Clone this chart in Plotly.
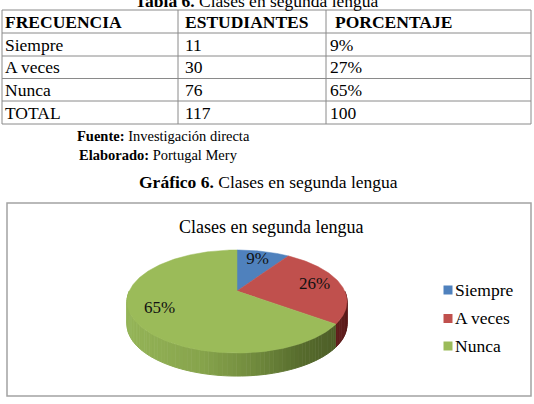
import numpy as np
import plotly.graph_objects as go

# ---------------- data ----------------
table_title_bold = "Tabla 6."
table_title_rest = "Clases en segunda lengua"
headers = ["FRECUENCIA", "ESTUDIANTES", "PORCENTAJE"]
categories = ["Siempre", "A veces", "Nunca"]
students = [11, 30, 76]
percent_text = ["9%", "27%", "65%"]
total_label = "TOTAL"
total_students = "117"
total_percent = "100"
source_label = "Fuente:"
source_text = "Investigación directa"
author_label = "Elaborado:"
author_text = "Portugal Mery"
caption_bold = "Gráfico 6."
caption_rest = "Clases en segunda lengua"
chart_title = "Clases en segunda lengua"
slice_colors = ["#4F81BD", "#C0504D", "#9BBB59"]

# ---------------- layout constants ----------------
W, H = 534, 404
FONT = "Liberation Serif"
row_lines = [10, 33, 56, 78.5, 101, 124]
col_lines = [2, 178, 326, 531]
col_pad = [1, 5, 2]
grid_color = "#8a8a8a"

CX, CY = 237, 291
A, B, P = 107.7, 49.4, 0.204
DEPTH = 23

def proj(theta_deg, r=1.0):
    t = np.radians(theta_deg)
    u = r * np.sin(t)
    v = -r * np.cos(t)
    d = 1 - P * v
    return CX + A * u / d, CY + B * v / d

side_stops = {
    0: [(127, (0x3a, 0x5f, 0x8e)), (347, (0x2a, 0x45, 0x68))],
    1: [(290, (0x82, 0x2b, 0x29)), (347, (0x5a, 0x1a, 0x19))],
    2: [(127, (0x94, 0xb4, 0x57)), (200, (0x87, 0xa4, 0x4c)), (255, (0x70, 0x8a, 0x3d)),
        (300, (0x57, 0x6c, 0x2d)), (347, (0x4a, 0x5a, 0x26))],
}

def grad_color(stops, x):
    xs = [s[0] for s in stops]
    rgb = [int(round(np.interp(x, xs, [s[1][k] for s in stops]))) for k in range(3)]
    return "rgb(%d,%d,%d)" % tuple(rgb)

fig = go.Figure()

vals = np.array(students, dtype=float)
shares = vals / vals.sum()
bounds = np.concatenate([[0], np.cumsum(shares)]) * 360.0

# side walls (front half only)
for i in range(len(categories)):
    a0, a1 = max(bounds[i], 90.0), min(bounds[i + 1], 270.0)
    if a1 <= a0:
        continue
    n = max(2, int(np.ceil((a1 - a0) / 2.0)))
    edges = np.linspace(a0, a1, n + 1)
    for k in range(n):
        th = np.linspace(edges[k], edges[k + 1], 4)
        xt, yt = proj(th)
        xs = list(xt) + list(xt[::-1])
        ys = list(yt) + list((yt + DEPTH)[::-1])
        c = grad_color(side_stops[i], float(np.mean(xt)))
        fig.add_trace(go.Scatter(x=xs, y=ys, fill="toself", fillcolor=c, mode="lines",
                                 line=dict(color=c, width=1), hoverinfo="skip", showlegend=False))

# top faces
for i, cat in enumerate(categories):
    th = np.linspace(bounds[i], bounds[i + 1], max(3, int((bounds[i + 1] - bounds[i]) / 1.0) + 2))
    xt, yt = proj(th)
    xs = [CX] + list(xt) + [CX]
    ys = [CY] + list(yt) + [CY]
    fig.add_trace(go.Scatter(x=xs, y=ys, fill="toself", fillcolor=slice_colors[i], mode="lines",
                             line=dict(color=slice_colors[i], width=0.5), name=cat,
                             hoverinfo="name", showlegend=False))

# data labels
mids = (bounds[:-1] + bounds[1:]) / 2
lx, ly = proj(mids, 0.75)
fig.add_trace(go.Scatter(x=lx, y=ly, mode="text",
                         text=["%d%%" % round(s * 100) for s in shares],
                         textfont=dict(family=FONT, size=17, color="#111111"),
                         hoverinfo="skip", showlegend=False))

# legend
leg_y = [289.5, 318, 345.5]
fig.add_trace(go.Scatter(x=[448] * 3, y=[y + 0.5 for y in leg_y], mode="markers",
                         marker=dict(symbol="square", size=9, color=slice_colors),
                         hoverinfo="skip", showlegend=False))

shapes = []
annotations = []

def ann(x, y, text, size, xanchor="left"):
    annotations.append(dict(x=x, y=y, xref="x", yref="y", text=text, showarrow=False,
                            xanchor=xanchor, yanchor="middle",
                            font=dict(family=FONT, size=size, color="#000000")))

for i, cat in enumerate(categories):
    ann(453, leg_y[i], cat, 17.5)

# table grid
for y in row_lines:
    shapes.append(dict(type="line", xref="x", yref="y", x0=col_lines[0], x1=col_lines[-1], y0=y, y1=y,
                       line=dict(color=grid_color, width=1)))
for x in col_lines:
    shapes.append(dict(type="line", xref="x", yref="y", x0=x, x1=x, y0=row_lines[0], y1=row_lines[-1],
                       line=dict(color=grid_color, width=1)))

rows = [[f"<b>{h}</b>" for h in headers]]
for c, s, p in zip(categories, students, percent_text):
    rows.append([c, str(s), p])
rows.append([total_label, total_students, total_percent])
for r, row in enumerate(rows):
    yc = (row_lines[r] + row_lines[r + 1]) / 2
    for c, txt in enumerate(row):
        extra = 5 if (r == 0 and c == 2) else 0
        ann(col_lines[c] + col_pad[c] + extra, yc, txt, 17.5)

ann(133, 0.7, f"<b>{table_title_bold}</b> {table_title_rest}", 17.5)
ann(75, 136, f"<b>{source_label}</b> {source_text}", 14.5)
ann(77, 154.5, f"<b>{author_label}</b> {author_text}", 14.5)
ann(137, 182, f"<b>{caption_bold}</b> {caption_rest}", 17.5)
ann(271, 226.5, chart_title, 18, xanchor="center")

# chart frame
shapes.append(dict(type="rect", xref="x", yref="y", x0=7, x1=531, y0=203, y1=396,
                   line=dict(color="#a3a3a3", width=1.5), layer="below"))

fig.update_layout(
    width=W, height=H, margin=dict(l=0, r=0, t=0, b=0),
    paper_bgcolor="white", plot_bgcolor="white",
    xaxis=dict(range=[0, W], visible=False, fixedrange=True),
    yaxis=dict(range=[H, 0], visible=False, fixedrange=True),
    shapes=shapes, annotations=annotations, showlegend=False,
)
fig.write_html("out.html")
